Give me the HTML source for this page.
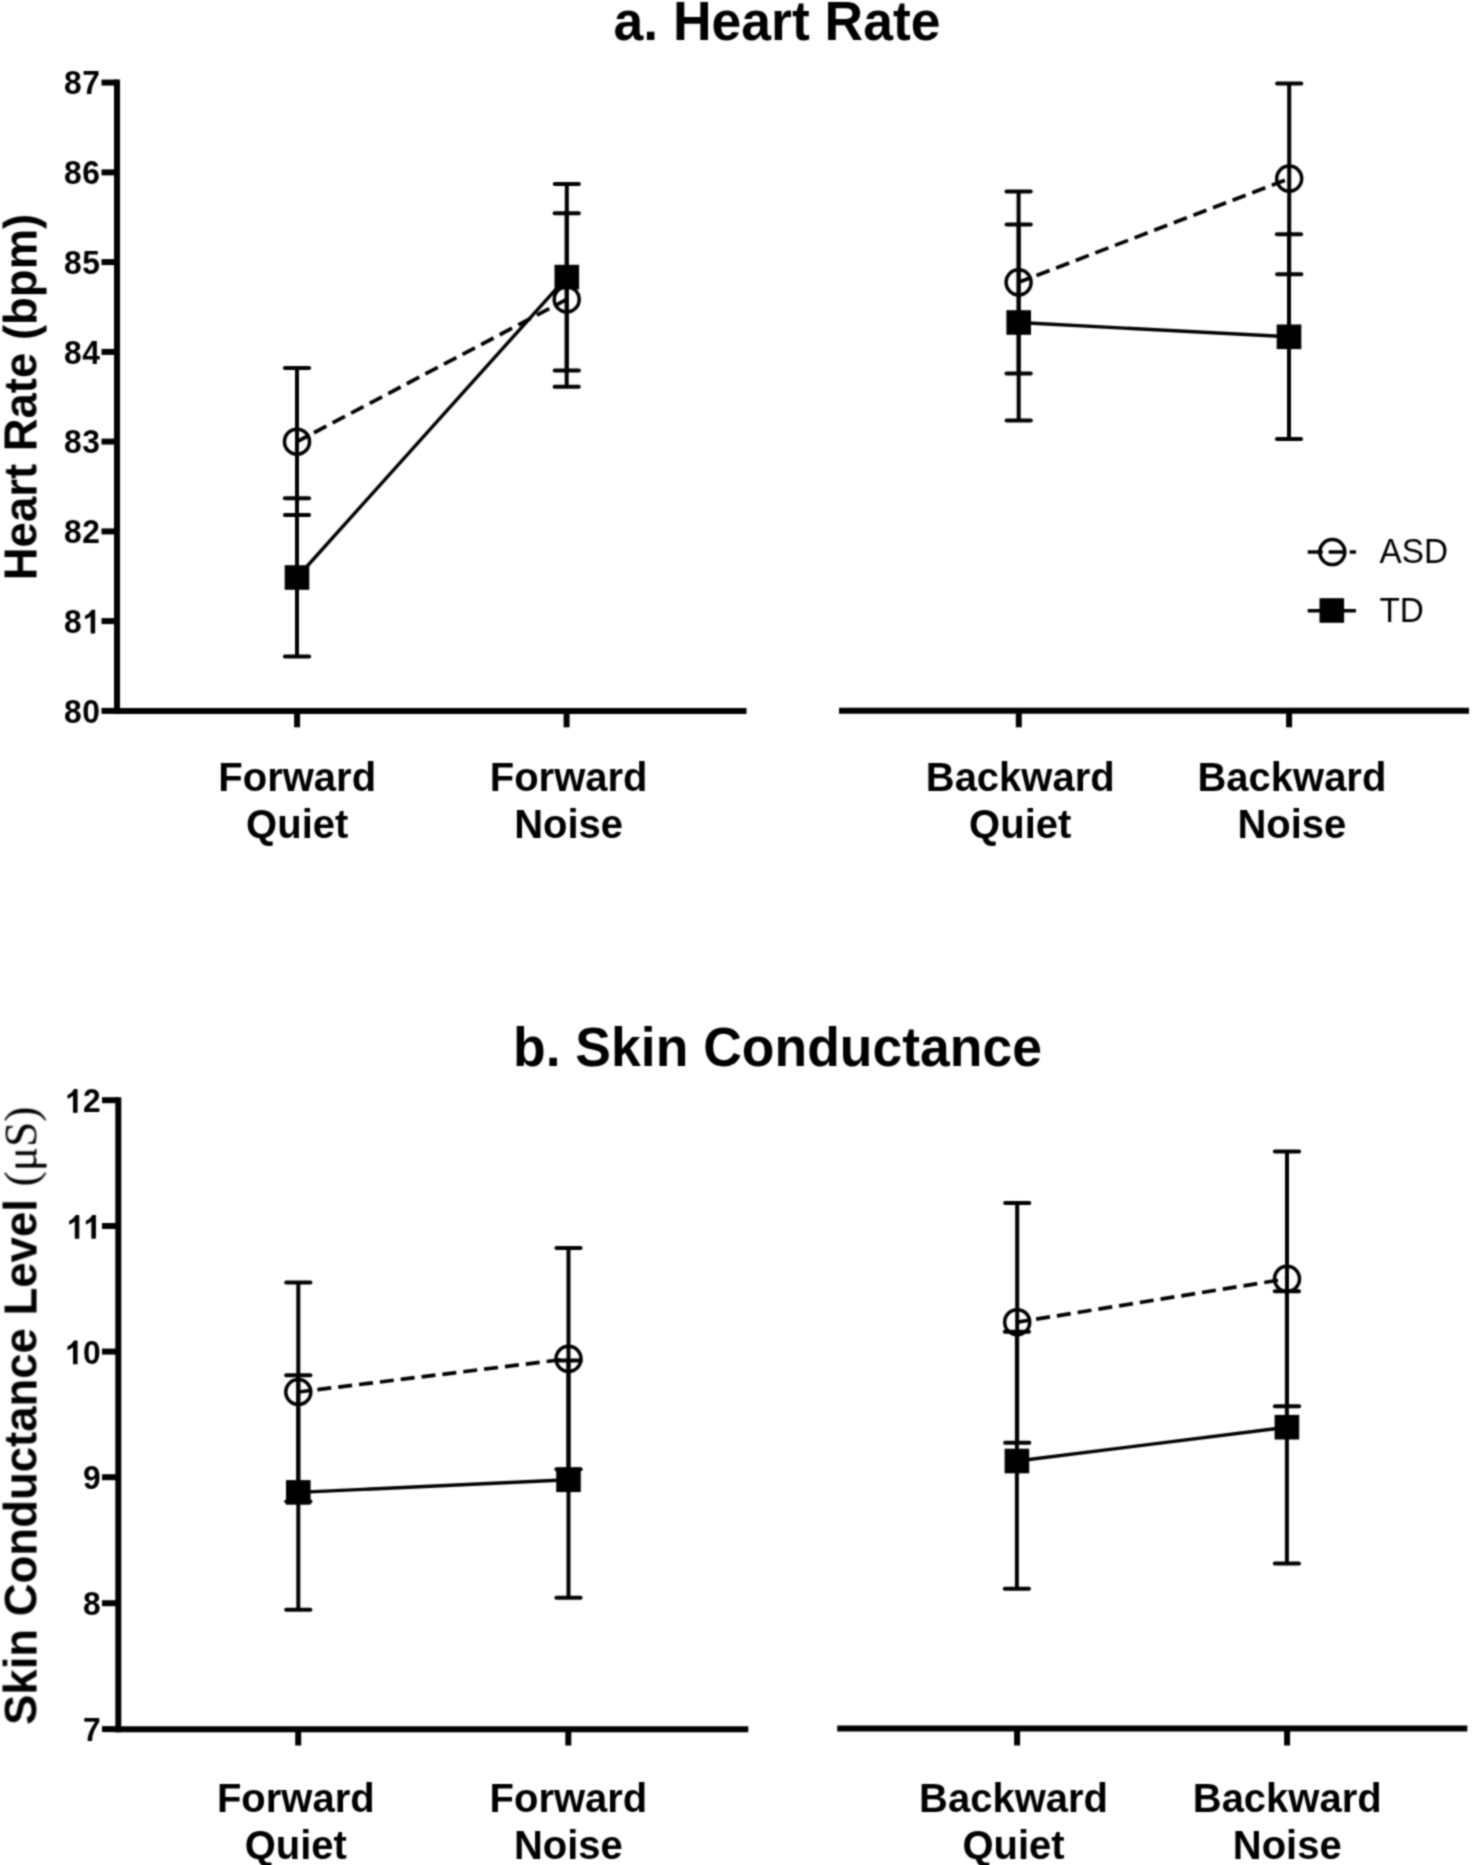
<!DOCTYPE html>
<html><head><meta charset="utf-8"><style>
html,body{margin:0;padding:0;background:#fff;}
svg{display:block;will-change:transform;}
text{font-family:"Liberation Sans",sans-serif;fill:#000;stroke:none;}
.tick{font-size:31.8px;font-weight:bold;text-anchor:middle;stroke:none;}
.one{fill:#000;stroke:#000;stroke-width:70px;stroke-linejoin:round;}
.xl{font-size:40px;font-weight:bold;text-anchor:middle;}
.title{font-size:53.5px;font-weight:bold;text-anchor:middle;}
.yl{font-size:45.5px;font-weight:bold;text-anchor:middle;}
.ser{font-family:"Liberation Serif",serif;font-weight:normal;}
.leg{font-size:33.3px;}
</style></head><body>
<svg width="1472" height="1865" viewBox="0 0 1472 1865" stroke="#000" fill="none">
<defs><filter id="bl" x="0" y="0" width="1472" height="1865" filterUnits="userSpaceOnUse" color-interpolation-filters="sRGB"><feConvolveMatrix order="5" kernelMatrix="0.00023 0.00332 0.00809 0.00332 0.00023 0.00332 0.04785 0.11640 0.04785 0.00332 0.00809 0.11640 0.28313 0.11640 0.00809 0.00332 0.04785 0.11640 0.04785 0.00332 0.00023 0.00332 0.00809 0.00332 0.00023" divisor="1" edgeMode="none"/></filter></defs>
<g filter="url(#bl)">
<line x1="117.0" y1="79.6" x2="117.0" y2="714.0" stroke-width="6.0" />
<line x1="101.5" y1="82.6" x2="117.0" y2="82.6" stroke-width="6.0" />
<g transform="translate(0,94.4) scale(1,1.035)"><text x="72.80" y="0" class="tick">8</text><text x="91.15" y="0" class="tick">7</text></g>
<line x1="101.5" y1="172.4" x2="117.0" y2="172.4" stroke-width="6.0" />
<g transform="translate(0,184.2) scale(1,1.035)"><text x="72.80" y="0" class="tick">8</text><text x="91.15" y="0" class="tick">6</text></g>
<line x1="101.5" y1="262.1" x2="117.0" y2="262.1" stroke-width="6.0" />
<g transform="translate(0,273.9) scale(1,1.035)"><text x="72.80" y="0" class="tick">8</text><text x="91.15" y="0" class="tick">5</text></g>
<line x1="101.5" y1="351.9" x2="117.0" y2="351.9" stroke-width="6.0" />
<g transform="translate(0,363.7) scale(1,1.035)"><text x="72.80" y="0" class="tick">8</text><text x="91.15" y="0" class="tick">4</text></g>
<line x1="101.5" y1="441.6" x2="117.0" y2="441.6" stroke-width="6.0" />
<g transform="translate(0,453.4) scale(1,1.035)"><text x="72.80" y="0" class="tick">8</text><text x="91.15" y="0" class="tick">3</text></g>
<line x1="101.5" y1="531.4" x2="117.0" y2="531.4" stroke-width="6.0" />
<g transform="translate(0,543.2) scale(1,1.035)"><text x="72.80" y="0" class="tick">8</text><text x="91.15" y="0" class="tick">2</text></g>
<line x1="101.5" y1="621.1" x2="117.0" y2="621.1" stroke-width="6.0" />
<g transform="translate(0,632.9) scale(1,1.035)"><text x="72.80" y="0" class="tick">8</text><path class="one" transform="translate(82.12,0) scale(0.01553,-0.01553)" d="M805 0L583 0L583 1120L500 1040L400 975L223 890L223 1050L400 1150L530 1270L625 1409L805 1409Z"/></g>
<line x1="101.5" y1="710.9" x2="117.0" y2="710.9" stroke-width="6.0" />
<g transform="translate(0,722.7) scale(1,1.035)"><text x="72.80" y="0" class="tick">8</text><text x="91.15" y="0" class="tick">0</text></g>
<line x1="114.5" y1="711.0" x2="746.5" y2="711.0" stroke-width="6.0" />
<line x1="839.0" y1="710.7" x2="1469.0" y2="710.7" stroke-width="6.0" />
<line x1="297.1" y1="711.0" x2="297.1" y2="727.3" stroke-width="6.0" />
<line x1="566.6" y1="711.0" x2="566.6" y2="727.3" stroke-width="6.0" />
<line x1="1018.8" y1="710.7" x2="1018.8" y2="727.3" stroke-width="6.0" />
<line x1="1289.1" y1="710.7" x2="1289.1" y2="727.3" stroke-width="6.0" />
<line x1="297.0" y1="441.7" x2="566.7" y2="299.4" stroke-width="3.7" stroke-dasharray="14 7" stroke-dashoffset="1.8"/>
<line x1="297.0" y1="577.5" x2="566.8" y2="277.1" stroke-width="3.4"/>
<line x1="1018.6" y1="282.3" x2="1289.2" y2="178.6" stroke-width="3.7" stroke-dasharray="14 7" stroke-dashoffset="1.8"/>
<line x1="1018.7" y1="322.5" x2="1289.0" y2="336.8" stroke-width="3.4"/>
<line x1="297.0" y1="368.0" x2="297.0" y2="515.0" stroke-width="4.0" />
<line x1="284.9" y1="368.0" x2="309.1" y2="368.0" stroke-width="4.0" stroke-linecap="round"/>
<line x1="284.9" y1="515.0" x2="309.1" y2="515.0" stroke-width="4.0" stroke-linecap="round"/>
<line x1="566.7" y1="213.2" x2="566.7" y2="386.7" stroke-width="4.0" />
<line x1="554.6" y1="213.2" x2="578.8" y2="213.2" stroke-width="4.0" stroke-linecap="round"/>
<line x1="554.6" y1="386.7" x2="578.8" y2="386.7" stroke-width="4.0" stroke-linecap="round"/>
<line x1="1018.6" y1="191.4" x2="1018.6" y2="373.5" stroke-width="4.0" />
<line x1="1006.5" y1="191.4" x2="1030.7" y2="191.4" stroke-width="4.0" stroke-linecap="round"/>
<line x1="1006.5" y1="373.5" x2="1030.7" y2="373.5" stroke-width="4.0" stroke-linecap="round"/>
<line x1="1289.2" y1="83.4" x2="1289.2" y2="274.2" stroke-width="4.0" />
<line x1="1277.1" y1="83.4" x2="1301.3" y2="83.4" stroke-width="4.0" stroke-linecap="round"/>
<line x1="1277.1" y1="274.2" x2="1301.3" y2="274.2" stroke-width="4.0" stroke-linecap="round"/>
<line x1="297.0" y1="498.3" x2="297.0" y2="656.5" stroke-width="4.0" />
<line x1="284.9" y1="498.3" x2="309.1" y2="498.3" stroke-width="4.0" stroke-linecap="round"/>
<line x1="284.9" y1="656.5" x2="309.1" y2="656.5" stroke-width="4.0" stroke-linecap="round"/>
<line x1="566.8" y1="183.9" x2="566.8" y2="370.4" stroke-width="4.0" />
<line x1="554.7" y1="183.9" x2="578.9" y2="183.9" stroke-width="4.0" stroke-linecap="round"/>
<line x1="554.7" y1="370.4" x2="578.9" y2="370.4" stroke-width="4.0" stroke-linecap="round"/>
<line x1="1018.7" y1="224.5" x2="1018.7" y2="420.6" stroke-width="4.0" />
<line x1="1006.6" y1="224.5" x2="1030.8" y2="224.5" stroke-width="4.0" stroke-linecap="round"/>
<line x1="1006.6" y1="420.6" x2="1030.8" y2="420.6" stroke-width="4.0" stroke-linecap="round"/>
<line x1="1289.0" y1="234.3" x2="1289.0" y2="439.0" stroke-width="4.0" />
<line x1="1276.9" y1="234.3" x2="1301.1" y2="234.3" stroke-width="4.0" stroke-linecap="round"/>
<line x1="1276.9" y1="439.0" x2="1301.1" y2="439.0" stroke-width="4.0" stroke-linecap="round"/>
<circle cx="297.0" cy="441.7" r="12.5" fill="none" stroke-width="3.5"/>
<circle cx="566.7" cy="299.4" r="12.5" fill="none" stroke-width="3.5"/>
<circle cx="1018.6" cy="282.3" r="12.5" fill="none" stroke-width="3.5"/>
<circle cx="1289.2" cy="178.6" r="12.5" fill="none" stroke-width="3.5"/>
<rect x="284.7" y="565.2" width="24.6" height="24.6" fill="#000" stroke="none"/>
<rect x="554.5" y="264.8" width="24.6" height="24.6" fill="#000" stroke="none"/>
<rect x="1006.4" y="310.2" width="24.6" height="24.6" fill="#000" stroke="none"/>
<rect x="1276.7" y="324.5" width="24.6" height="24.6" fill="#000" stroke="none"/>
<text transform="translate(297.2,790.6) scale(1.0,1.035)" class="xl">Forward</text>
<text transform="translate(297.2,838.2) scale(1.0,1.035)" class="xl">Quiet</text>
<text transform="translate(568.6,790.6) scale(1.0,1.035)" class="xl">Forward</text>
<text transform="translate(568.6,838.2) scale(1.0,1.035)" class="xl">Noise</text>
<text transform="translate(1020.2,790.6) scale(1.0,1.035)" class="xl">Backward</text>
<text transform="translate(1020.2,838.2) scale(1.0,1.035)" class="xl">Quiet</text>
<text transform="translate(1291.9,790.6) scale(1.0,1.035)" class="xl">Backward</text>
<text transform="translate(1291.9,838.2) scale(1.0,1.035)" class="xl">Noise</text>
<line x1="118.3" y1="1097.2" x2="118.3" y2="1732.2" stroke-width="6.0" />
<line x1="102.0" y1="1100.2" x2="118.3" y2="1100.2" stroke-width="6.0" />
<g transform="translate(0,1112.3) scale(1,1.035)"><path class="one" transform="translate(64.52,0) scale(0.01553,-0.01553)" d="M805 0L583 0L583 1120L500 1040L400 975L223 890L223 1050L400 1150L530 1270L625 1409L805 1409Z"/><text x="91.90" y="0" class="tick">2</text></g>
<line x1="102.0" y1="1226.0" x2="118.3" y2="1226.0" stroke-width="6.0" />
<g transform="translate(0,1238.1) scale(1,1.035)"><path class="one" transform="translate(66.27,0) scale(0.01553,-0.01553)" d="M805 0L583 0L583 1120L500 1040L400 975L223 890L223 1050L400 1150L530 1270L625 1409L805 1409Z"/><path class="one" transform="translate(82.87,0) scale(0.01553,-0.01553)" d="M805 0L583 0L583 1120L500 1040L400 975L223 890L223 1050L400 1150L530 1270L625 1409L805 1409Z"/></g>
<line x1="102.0" y1="1351.6" x2="118.3" y2="1351.6" stroke-width="6.0" />
<g transform="translate(0,1363.7) scale(1,1.035)"><path class="one" transform="translate(64.52,0) scale(0.01553,-0.01553)" d="M805 0L583 0L583 1120L500 1040L400 975L223 890L223 1050L400 1150L530 1270L625 1409L805 1409Z"/><text x="91.90" y="0" class="tick">0</text></g>
<line x1="102.0" y1="1477.2" x2="118.3" y2="1477.2" stroke-width="6.0" />
<g transform="translate(0,1489.3) scale(1,1.035)"><text x="91.90" y="0" class="tick">9</text></g>
<line x1="102.0" y1="1603.2" x2="118.3" y2="1603.2" stroke-width="6.0" />
<g transform="translate(0,1615.3) scale(1,1.035)"><text x="91.90" y="0" class="tick">8</text></g>
<line x1="102.0" y1="1729.1" x2="118.3" y2="1729.1" stroke-width="6.0" />
<g transform="translate(0,1741.2) scale(1,1.035)"><text x="91.90" y="0" class="tick">7</text></g>
<line x1="115.5" y1="1729.2" x2="748.3" y2="1729.2" stroke-width="6.0" />
<line x1="837.2" y1="1728.4" x2="1467.3" y2="1728.4" stroke-width="6.0" />
<line x1="298.2" y1="1729.2" x2="298.2" y2="1745.5" stroke-width="6.0" />
<line x1="568.3" y1="1729.2" x2="568.3" y2="1745.5" stroke-width="6.0" />
<line x1="1017.1" y1="1728.4" x2="1017.1" y2="1745.5" stroke-width="6.0" />
<line x1="1287.1" y1="1728.4" x2="1287.1" y2="1745.5" stroke-width="6.0" />
<line x1="298.3" y1="1392.0" x2="568.5" y2="1358.8" stroke-width="3.7" stroke-dasharray="14 7" stroke-dashoffset="1.8"/>
<line x1="298.3" y1="1492.4" x2="568.5" y2="1479.8" stroke-width="3.4"/>
<line x1="1017.2" y1="1322.2" x2="1287.0" y2="1278.8" stroke-width="3.7" stroke-dasharray="14 7" stroke-dashoffset="1.8"/>
<line x1="1016.9" y1="1461.0" x2="1286.9" y2="1427.2" stroke-width="3.4"/>
<line x1="298.3" y1="1282.5" x2="298.3" y2="1501.6" stroke-width="4.0" />
<line x1="286.2" y1="1282.5" x2="310.4" y2="1282.5" stroke-width="4.0" stroke-linecap="round"/>
<line x1="286.2" y1="1501.6" x2="310.4" y2="1501.6" stroke-width="4.0" stroke-linecap="round"/>
<line x1="568.5" y1="1248.0" x2="568.5" y2="1469.2" stroke-width="4.0" />
<line x1="556.4" y1="1248.0" x2="580.6" y2="1248.0" stroke-width="4.0" stroke-linecap="round"/>
<line x1="556.4" y1="1469.2" x2="580.6" y2="1469.2" stroke-width="4.0" stroke-linecap="round"/>
<line x1="1017.2" y1="1203.0" x2="1017.2" y2="1442.7" stroke-width="4.0" />
<line x1="1005.1" y1="1203.0" x2="1029.3" y2="1203.0" stroke-width="4.0" stroke-linecap="round"/>
<line x1="1005.1" y1="1442.7" x2="1029.3" y2="1442.7" stroke-width="4.0" stroke-linecap="round"/>
<line x1="1287.0" y1="1151.4" x2="1287.0" y2="1406.3" stroke-width="4.0" />
<line x1="1274.9" y1="1151.4" x2="1299.1" y2="1151.4" stroke-width="4.0" stroke-linecap="round"/>
<line x1="1274.9" y1="1406.3" x2="1299.1" y2="1406.3" stroke-width="4.0" stroke-linecap="round"/>
<line x1="298.3" y1="1375.3" x2="298.3" y2="1609.7" stroke-width="4.0" />
<line x1="286.2" y1="1375.3" x2="310.4" y2="1375.3" stroke-width="4.0" stroke-linecap="round"/>
<line x1="286.2" y1="1609.7" x2="310.4" y2="1609.7" stroke-width="4.0" stroke-linecap="round"/>
<line x1="568.5" y1="1360.4" x2="568.5" y2="1597.8" stroke-width="4.0" />
<line x1="556.4" y1="1360.4" x2="580.6" y2="1360.4" stroke-width="4.0" stroke-linecap="round"/>
<line x1="556.4" y1="1597.8" x2="580.6" y2="1597.8" stroke-width="4.0" stroke-linecap="round"/>
<line x1="1016.9" y1="1331.8" x2="1016.9" y2="1588.7" stroke-width="4.0" />
<line x1="1004.8" y1="1331.8" x2="1029.0" y2="1331.8" stroke-width="4.0" stroke-linecap="round"/>
<line x1="1004.8" y1="1588.7" x2="1029.0" y2="1588.7" stroke-width="4.0" stroke-linecap="round"/>
<line x1="1286.9" y1="1291.3" x2="1286.9" y2="1563.6" stroke-width="4.0" />
<line x1="1274.8" y1="1291.3" x2="1299.0" y2="1291.3" stroke-width="4.0" stroke-linecap="round"/>
<line x1="1274.8" y1="1563.6" x2="1299.0" y2="1563.6" stroke-width="4.0" stroke-linecap="round"/>
<circle cx="298.3" cy="1392.0" r="12.5" fill="none" stroke-width="3.5"/>
<circle cx="568.5" cy="1358.8" r="12.5" fill="none" stroke-width="3.5"/>
<circle cx="1017.2" cy="1322.2" r="12.5" fill="none" stroke-width="3.5"/>
<circle cx="1287.0" cy="1278.8" r="12.5" fill="none" stroke-width="3.5"/>
<rect x="286.0" y="1480.1" width="24.6" height="24.6" fill="#000" stroke="none"/>
<rect x="556.2" y="1467.5" width="24.6" height="24.6" fill="#000" stroke="none"/>
<rect x="1004.6" y="1448.7" width="24.6" height="24.6" fill="#000" stroke="none"/>
<rect x="1274.6" y="1414.9" width="24.6" height="24.6" fill="#000" stroke="none"/>
<text transform="translate(295.8,1811.8) scale(1.0,1.035)" class="xl">Forward</text>
<text transform="translate(295.8,1858.6) scale(1.0,1.035)" class="xl">Quiet</text>
<text transform="translate(568.4,1811.8) scale(1.0,1.035)" class="xl">Forward</text>
<text transform="translate(568.4,1858.6) scale(1.0,1.035)" class="xl">Noise</text>
<text transform="translate(1013.5,1811.8) scale(1.0,1.035)" class="xl">Backward</text>
<text transform="translate(1013.5,1858.6) scale(1.0,1.035)" class="xl">Quiet</text>
<text transform="translate(1287.2,1811.8) scale(1.0,1.035)" class="xl">Backward</text>
<text transform="translate(1287.2,1858.6) scale(1.0,1.035)" class="xl">Noise</text>
<text transform="translate(777.0,40.2) scale(1.0,1.035)" class="title">a. Heart Rate</text>
<text transform="translate(777.5,1066.0) scale(1.0,1.035)" class="title">b. Skin Conductance</text>
<text transform="translate(37.0,397.0) rotate(-90) scale(1.0,1.035)" class="yl">Heart Rate (bpm)</text>
<text transform="translate(37,1415.7) rotate(-90) scale(1,1.035)" class="yl">Skin Conductance Level <tspan class="ser">(&#956;S)</tspan></text>
<line x1="1307.7" y1="552" x2="1356" y2="552" stroke-width="3.4" stroke-dasharray="15 6"/>
<circle cx="1332.3" cy="552.1" r="12.5" fill="none" stroke-width="3.5"/>
<line x1="1307.7" y1="610.7" x2="1356" y2="610.7" stroke-width="3.4"/>
<rect x="1319.5" y="598.2" width="24.6" height="24.6" fill="#000" stroke="none"/>
<text transform="translate(1379.5,563.2) scale(1.0,1.035)" class="leg">ASD</text>
<text transform="translate(1379.5,621.9) scale(1.0,1.035)" class="leg">TD</text>
</g>
</svg>
</body></html>
